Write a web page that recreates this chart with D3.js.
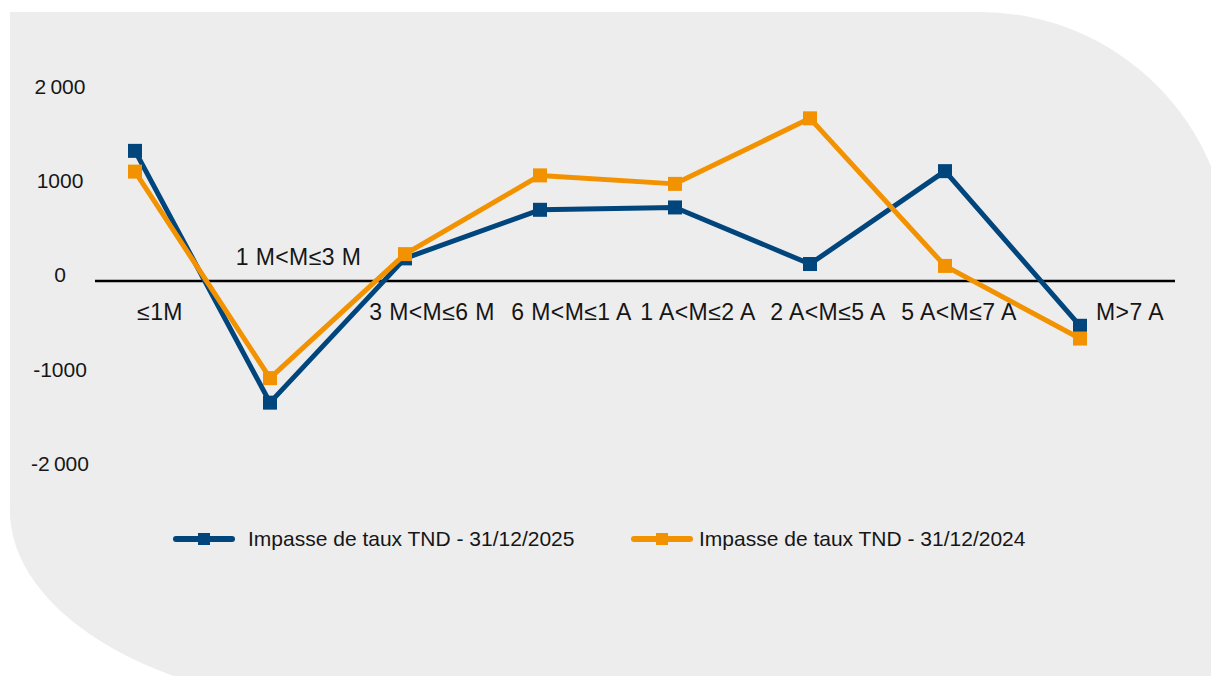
<!DOCTYPE html>
<html>
<head>
<meta charset="utf-8">
<script src="https://cdn.jsdelivr.net/npm/d3@7/dist/d3.min.js"></script>
<style>
  html, body { margin: 0; padding: 0; background: #ffffff; }
  svg { display: block; }
  text { font-family: "Liberation Sans", Arial, sans-serif; fill: #161616; }
</style>
</head>
<body>
<svg id="chart" width="1211" height="676"></svg>
<script>
// Maturity buckets (M = mois, A = années)
const categories = ["≤1M", "1 M<M≤3 M", "3 M<M≤6 M", "6 M<M≤1 A",
                    "1 A<M≤2 A", "2 A<M≤5 A", "5 A<M≤7 A", "M>7 A"];

// Interest-rate gap (TND) per bucket
const gap2025 = [1380, -1290, 240, 755, 780, 180, 1165, -475];
const gap2024 = [1160, -1030, 285, 1120, 1030, 1725, 160, -610];

const seriesNames = ["Impasse de taux TND - 31/12/2025", "Impasse de taux TND - 31/12/2024"];

const yTickValues = [-2000, -1000, 0, 1000, 2000];
const yTickLabels = ["-2\u2009000", "-1000", "0", "1000", "2\u2009000"];

const colors = ["#00457c", "#f39200"];

const svg = d3.select("#chart");

// Panel background: square top-left corner, rounded top-right and bottom-left
svg.append("path")
  .attr("d", "M10,12 H980 A250,250 0 0 1 1230,262 V710 H380 A370,200 0 0 1 10,505 Z")
  .attr("fill", "#ededed");

const x = d3.scalePoint().domain(categories).range([135, 1080]);
const y = d3.scaleLinear().domain([-2000, 2000]).range([469.6, 92.4]);

// Value axis labels (no axis line, no gridlines)
const yAxis = d3.axisLeft(y)
  .tickValues(yTickValues)
  .tickFormat((d, i) => yTickLabels[i])
  .tickSize(0);
const yg = svg.append("g").attr("transform", "translate(60,-6)").call(yAxis);
yg.select(".domain").remove();
yg.selectAll("text")
  .attr("x", 0)
  .attr("text-anchor", "middle")
  .attr("font-size", 21)
  .attr("font-family", "Liberation Sans, Arial, sans-serif")
  .attr("fill", "#161616");

// Zero line
svg.append("line")
  .attr("x1", 95).attr("x2", 1175)
  .attr("y1", y(0)).attr("y2", y(0))
  .attr("stroke", "#000").attr("stroke-width", 2.5);

// Category labels sit next to the zero line; the second one above it
const labelNudge = [25, 28.5, 27, 31.5, 23, 18, 14, 50];
svg.append("g").selectAll("text")
  .data(categories)
  .join("text")
  .attr("x", (d, i) => x(d) + labelNudge[i])
  .attr("y", (d, i) => i === 1 ? y(0) - 24 : y(0) + 31)
  .attr("dy", "0.35em")
  .attr("text-anchor", "middle")
  .attr("font-size", 23)
  .attr("letter-spacing", 0.4)
  .text(d => d);

// Series
const series = [gap2025, gap2024];
const line = d3.line().x((d, i) => x(categories[i])).y(d => y(d));
const ms = 14;

series.forEach((vals, s) => {
  const g = svg.append("g");
  g.append("path")
    .datum(vals)
    .attr("d", line)
    .attr("fill", "none")
    .attr("stroke", colors[s])
    .attr("stroke-width", 5)
    .attr("stroke-linejoin", "round");
  g.selectAll("rect")
    .data(vals)
    .join("rect")
    .attr("x", (d, i) => x(categories[i]) - ms / 2)
    .attr("y", d => y(d) - ms / 2)
    .attr("width", ms)
    .attr("height", ms)
    .attr("fill", colors[s]);
});

// Legend
const legendX = [176, 634];
const legend = svg.append("g").selectAll("g")
  .data(seriesNames)
  .join("g")
  .attr("transform", (d, i) => `translate(${legendX[i]},539)`);
legend.append("line")
  .attr("x1", 0).attr("x2", 56)
  .attr("stroke", (d, i) => colors[i])
  .attr("stroke-width", 6)
  .attr("stroke-linecap", "round");
legend.append("rect")
  .attr("x", 22).attr("y", -6).attr("width", 12).attr("height", 12)
  .attr("fill", (d, i) => colors[i]);
legend.append("text")
  .attr("x", (d, i) => i === 0 ? 72 : 65)
  .attr("dy", "0.35em")
  .attr("font-size", 21)
  .text(d => d);
</script>
</body>
</html>
